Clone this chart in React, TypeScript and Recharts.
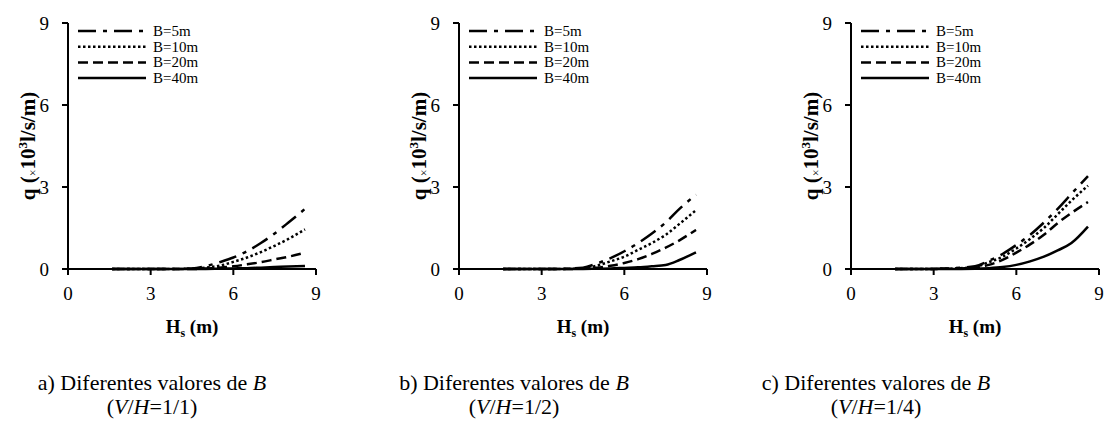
import React from 'react';
import { LineChart, Line, XAxis, YAxis, Legend } from 'recharts';

// wave height Hs (m)
const HS = [1.6, 2.5, 3.5, 4.5, 5.0, 5.5, 6.0, 6.5, 7.0, 7.5, 8.0, 8.6];

// q (x10^3 l/s/m), V/H = 1/1
const A_B5 = [0, 0, 0, 0.02, 0.1, 0.25, 0.42, 0.65, 0.95, 1.3, 1.7, 2.2];
const A_B10 = [0, 0, 0, 0.01, 0.05, 0.12, 0.26, 0.42, 0.62, 0.85, 1.1, 1.45];
const A_B20 = [0, 0, 0, 0, 0.02, 0.05, 0.1, 0.17, 0.25, 0.35, 0.45, 0.6];
const A_B40 = [0, 0, 0, 0, 0, 0.01, 0.02, 0.03, 0.05, 0.07, 0.09, 0.11];

// V/H = 1/2
const B_B5 = [0, 0, 0, 0.05, 0.2, 0.4, 0.65, 0.95, 1.3, 1.7, 2.2, 2.72];
const B_B10 = [0, 0, 0, 0.03, 0.12, 0.28, 0.45, 0.7, 0.95, 1.25, 1.65, 2.15];
const B_B20 = [0, 0, 0, 0.01, 0.05, 0.12, 0.22, 0.36, 0.55, 0.78, 1.05, 1.43];
const B_B40 = [0, 0, 0, 0, 0.01, 0.02, 0.04, 0.06, 0.1, 0.15, 0.33, 0.61];

// V/H = 1/4
const C_B5 = [0, 0, 0.02, 0.1, 0.3, 0.55, 0.88, 1.25, 1.7, 2.2, 2.75, 3.4];
const C_B10 = [0, 0, 0.01, 0.08, 0.25, 0.45, 0.75, 1.1, 1.5, 2.0, 2.5, 3.05];
const C_B20 = [0, 0, 0.01, 0.05, 0.15, 0.33, 0.6, 0.9, 1.25, 1.68, 2.05, 2.45];
const C_B40 = [0, 0, 0, 0.01, 0.03, 0.07, 0.15, 0.28, 0.45, 0.68, 0.95, 1.55];

const TICKS = [0, 3, 6, 9];
const SERIES_NAMES = ['B=5m', 'B=10m', 'B=20m', 'B=40m'];
const DASHES = ['18 7 4 7', '2.5 2.5', '10 5', '0'];

const FONT = '"Liberation Serif", "Times New Roman", serif';

const buildData = (series: number[][]) =>
  HS.map((hs, i) => ({ hs, b5: series[0][i], b10: series[1][i], b20: series[2][i], b40: series[3][i] }));

const PANELS = [
  { left: 0, data: buildData([A_B5, A_B10, A_B20, A_B40]) },
  { left: 391, data: buildData([B_B5, B_B10, B_B20, B_B40]) },
  { left: 783, data: buildData([C_B5, C_B10, C_B20, C_B40]) },
];

const CAPTIONS = [
  { cx: 152, letter: 'a)', ratio: '1/1' },
  { cx: 514, letter: 'b)', ratio: '1/2' },
  { cx: 876, letter: 'c)', ratio: '1/4' },
];

const KEYS = ['b5', 'b10', 'b20', 'b40'];

const YLabel = ({ viewBox }: any) => {
  const x = viewBox.x + 35;
  const y = viewBox.y + viewBox.height / 2;
  return (
    <text
      x={0}
      y={0}
      transform={`translate(${x}, ${y}) rotate(-90)`}
      textAnchor="middle"
      fontFamily={FONT}
      fontWeight="bold"
      fontSize={21}
      fill="#000"
    >
      q (<tspan fontSize={12} fontWeight="normal" dy={2}>×</tspan>
      <tspan dy={-2}>10</tspan>
      <tspan fontSize={13} dy={-8}>3</tspan>
      <tspan dy={8}>l/s/m)</tspan>
    </text>
  );
};

const XLabel = ({ viewBox }: any) => {
  const x = viewBox.x + viewBox.width / 2;
  const y = 333;
  return (
    <text x={x} y={y} textAnchor="middle" fontFamily={FONT} fontWeight="bold" fontSize={19} fill="#000">
      H<tspan fontSize={12} dy={4}>s</tspan>
      <tspan dy={-4}> (m)</tspan>
    </text>
  );
};

const LegendBox = () => (
  <svg width={140} height={64}>
    {SERIES_NAMES.map((name, i) => {
      const y = 8 + i * 15.7;
      return (
        <g key={name}>
          <line x1={0} x2={68} y1={y} y2={y} stroke="#000" strokeWidth={2.5} strokeDasharray={DASHES[i]} />
          <text x={75} y={y} dominantBaseline="central" fontFamily={FONT} fontSize={15} fill="#000">
            {name}
          </text>
        </g>
      );
    })}
  </svg>
);

const Panel = ({ data }: { data: any[] }) => (
  <LineChart width={321} height={345} data={data} margin={{ top: 23, right: 5, bottom: 10, left: 0 }}>
    <XAxis
      type="number"
      dataKey="hs"
      domain={[0, 9]}
      ticks={TICKS}
      height={66}
      stroke="#000"
      strokeWidth={2}
      tickSize={6}
      tickMargin={12}
      tick={{ fill: '#000', fontSize: 19, fontFamily: FONT }}
      label={<XLabel />}
    />
    <YAxis
      type="number"
      domain={[0, 9]}
      ticks={TICKS}
      width={68}
      stroke="#000"
      strokeWidth={2}
      tickSize={6}
      tickMargin={13}
      tick={{ fill: '#000', fontSize: 19, fontFamily: FONT }}
      label={<YLabel />}
    />
    <Legend
      layout="vertical"
      align="center"
      verticalAlign="middle"
      content={<LegendBox />}
      wrapperStyle={{ position: 'absolute', top: 23, left: 78, width: 140, height: 64 }}
    />
    {KEYS.map((k, i) => (
      <Line
        key={k}
        type="monotone"
        dataKey={k}
        name={SERIES_NAMES[i]}
        stroke="#000"
        strokeWidth={2.5}
        strokeDasharray={DASHES[i]}
        dot={false}
        isAnimationActive={false}
      />
    ))}
  </LineChart>
);

export default function App() {
  return (
    <div style={{ position: 'relative', width: 1104, height: 430, background: '#fff', overflow: 'hidden' }}>
      <style>{'body{margin:0}'}</style>
      {PANELS.map((p, i) => (
        <div key={i} style={{ position: 'absolute', left: p.left, top: 0 }}>
          <Panel data={p.data} />
        </div>
      ))}
      {CAPTIONS.map((c) => (
        <div
          key={c.letter}
          style={{
            position: 'absolute',
            left: c.cx - 200,
            top: 371,
            width: 400,
            textAlign: 'center',
            fontFamily: FONT,
            fontSize: 22,
            lineHeight: '24px',
            color: '#000',
            whiteSpace: 'nowrap',
          }}
        >
          {c.letter} Diferentes valores de <i>B</i>
          <br />(<i>V</i>/<i>H</i>=<span>{c.ratio}</span>)
        </div>
      ))}
    </div>
  );
}
